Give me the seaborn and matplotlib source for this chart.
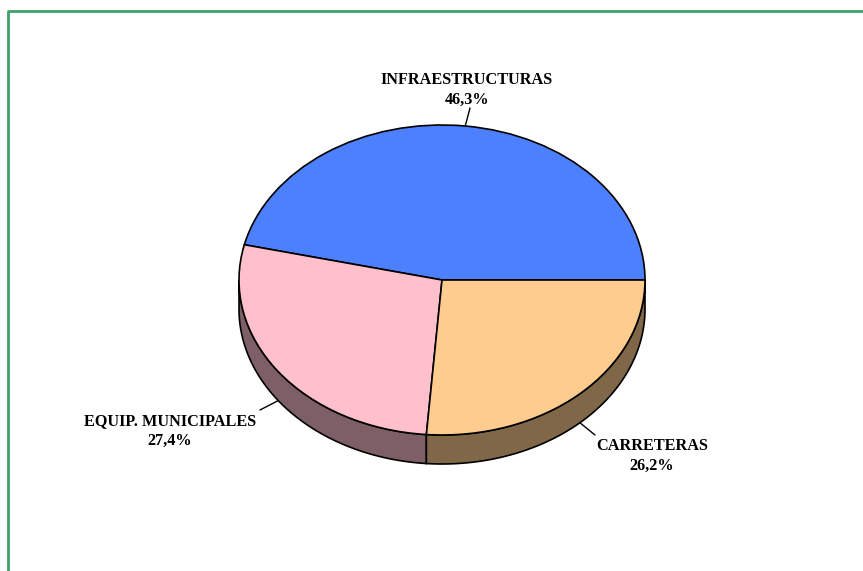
import numpy as np
import matplotlib
matplotlib.use("Agg")
import matplotlib.pyplot as plt
import seaborn as sns
from matplotlib.patches import Polygon
from matplotlib.lines import Line2D

# ---- data ----
categories = ["INFRAESTRUCTURAS", "EQUIP. MUNICIPALES", "CARRETERAS"]
values = [46.3, 27.4, 26.2]
value_labels = ["46,3%", "27,4%", "26,2%"]
top_colors = ["#4D80FF", "#FFC0CC", "#FFCC8F"]
side_colors = ["#27407F", "#7F5F66", "#7F6747"]

sns.set_theme(style="white")
plt.rcParams["font.family"] = ["Liberation Serif", "DejaVu Serif"]

W, H = 863, 571
fig = plt.figure(figsize=(W / 100, H / 100), dpi=100)
fig.patch.set_facecolor("white")
ax = fig.add_axes([0, 0, 1, 1])

# geometry of the tilted pie (pixels)
cx, cy, rx, ry, depth = 442, 280, 203, 155, 29
d = depth / ry


def px(x, y):
    return ((x - cx) / rx, (cy - y) / ry)


# side walls (front half only)
total = sum(values)
a0 = 0.0
mids = []
for v, sc in zip(values, side_colors):
    a1 = a0 + 360.0 * v / total
    mids.append((a0 + a1) / 2)
    lo, hi = max(a0, 180.0), min(a1, 360.0)
    if hi > lo:
        t = np.radians(np.linspace(lo, hi, 80))
        top = np.column_stack([np.cos(t), np.sin(t)])
        bot = np.column_stack([np.cos(t), np.sin(t) - d])[::-1]
        ax.add_patch(Polygon(np.vstack([top, bot]), closed=True, facecolor=sc,
                             edgecolor="black", linewidth=1.2, zorder=1))
    a0 = a1

wedges, _ = ax.pie(values, colors=top_colors, startangle=0, counterclock=True,
                   radius=1, center=(0, 0), frame=False,
                   wedgeprops=dict(edgecolor="black", linewidth=1.2, zorder=2))
ax.set_aspect("auto")
ax.set_xlim(-cx / rx, (W - cx) / rx)
ax.set_ylim((cy - H) / ry, cy / ry)
ax.axis("off")

# labels
text_pos = [(467, 90), (170, 431), (652, 456)]
leader_end = [(470, 108), (260, 410), (595, 435)]
for cat, lab, m, tp, le in zip(categories, value_labels, mids, text_pos, leader_end):
    r = np.radians(m)
    ax_ = np.cos(r)
    ay_ = np.sin(r) - (d if np.sin(r) < 0 else 0)
    ex, ey = px(*le)
    ax.plot([ax_, ex], [ay_, ey], color="black", linewidth=1.0, zorder=3)
    tx, ty = px(*tp)
    ax.text(tx, ty, f"{cat}\n{lab}", ha="center", va="center", fontsize=11.7,
            fontweight="bold", linespacing=1.3, color="black", zorder=4)

# green frame (top and left edges)
fx = lambda x: x / W
fy = lambda y: 1 - y / H
fig.add_artist(Line2D([fx(8), fx(8), fx(W + 5)], [fy(H + 5), fy(10.5), fy(10.5)],
                      color="#3FA06A", linewidth=2.0, transform=fig.transFigure))

fig.savefig("out.png", dpi=100, facecolor="white")
